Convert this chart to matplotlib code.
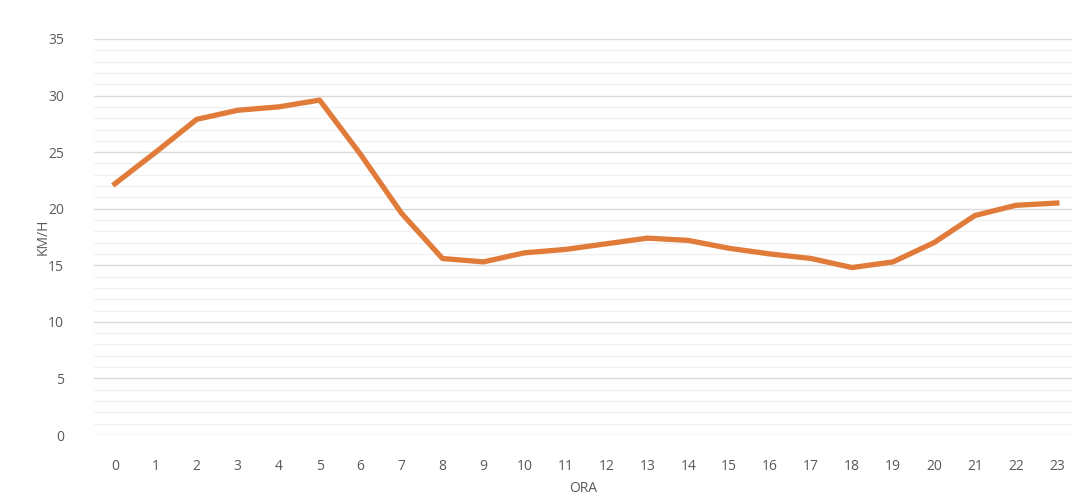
import matplotlib
matplotlib.use("Agg")
import matplotlib.pyplot as plt
from matplotlib.ticker import MultipleLocator

hours = list(range(24))
speed = [22.2, 25.0, 27.9, 28.7, 29.0, 29.6, 24.8, 19.6, 15.6, 15.3, 16.1, 16.4,
         16.9, 17.4, 17.2, 16.5, 16.0, 15.6, 14.8, 15.3, 17.0, 19.4, 20.3, 20.5]
x_label = "ORA"
y_label = "KM/H"

plt.rcParams['font.family'] = ['Open Sans', 'DejaVu Sans']
fig = plt.figure(figsize=(10.72, 4.98), dpi=100)
ax = fig.add_axes([0.088, 0.1265, 0.912, 0.7952])

ax.plot(hours, speed, color="#E07B39", linewidth=3.8, solid_joinstyle="round", zorder=3)

ax.set_xlim(-0.5, 23.37)
ax.set_ylim(0, 35)
ax.yaxis.set_major_locator(MultipleLocator(5))
ax.yaxis.set_minor_locator(MultipleLocator(1))
ax.set_xticks(hours)
ax.grid(axis='y', which='major', color="#D9D9D9", linewidth=1.0)
ax.grid(axis='y', which='minor', color="#F0F0F0", linewidth=0.9)
ax.set_axisbelow(True)
for s in ax.spines.values():
    s.set_visible(False)
ax.tick_params(axis='both', which='both', length=0, colors="#595959", labelsize=10)
ax.tick_params(axis='x', pad=17)
ax.tick_params(axis='y', pad=22)
ax.set_xlabel(x_label, color="#595959", fontsize=10, labelpad=5)
ax.set_ylabel(y_label, color="#595959", fontsize=10, labelpad=-2)

fig.savefig("out.png", dpi=100, facecolor="white")
